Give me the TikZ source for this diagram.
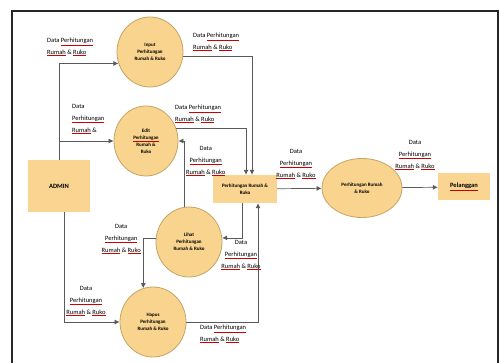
\documentclass[tikz,border=0pt]{standalone}
\usepackage{fontspec}
\setmainfont{Carlito}
\usetikzlibrary{arrows.meta,positioning,shapes.geometric}
\definecolor{procfill}{HTML}{F9D48E}
\definecolor{procline}{HTML}{C4A466}
\definecolor{boxfill}{HTML}{FAD491}
\definecolor{flowline}{HTML}{5A5A5A}
\newcommand{\ejaan}[1]{{\color{red!80!black}\underline{\color{black}#1}}}

\begin{document}
\begin{tikzpicture}[
    x=1pt, y=1pt,
    proc/.style={ellipse, draw=procline, fill=procfill, line width=0.8pt, align=center, minimum width=66pt, minimum height=70pt, inner sep=0pt, font=\fontsize{5}{7}\selectfont\bfseries},
    entity/.style={rectangle, fill=boxfill, align=center, font=\fontsize{6.5}{8}\selectfont\bfseries},
    lbl/.style={align=left, inner sep=0pt, font=\fontsize{6.5}{12}\selectfont},
    arrow/.style={-{Latex[length=5pt,width=5pt]}, draw=flowline, line width=0.7pt}
]
\useasboundingbox (0,0) rectangle (500,363);
\draw[line width=1.3pt, black!85] (12,0) |- (498,352) -- (498,0);

% entitas dan proses
\node[entity, minimum width=62pt, minimum height=52pt] (admin) at (59,177) {ADMIN};
\node[proc] (p1) at (150,311) {Input\\Perhitungan\\Rumah \& Ruko};
\node[proc, minimum width=64pt] (p2) at (146,222) {Edit\\\ejaan{Perhitungan}\\Rumah \&\\Ruko};
\node[proc] (p3) at (189,121) {Lihat\\Perhitungan\\Rumah \& Ruko};
\node[proc] (p4) at (153,41) {Hapus\\Perhitungan\\Rumah \& Ruko};
\node[entity, minimum width=64pt, minimum height=28pt, font=\fontsize{5}{7}\selectfont\bfseries] (store) at (245,174) {Perhitungan Rumah \&\\Ruko};
\node[proc, minimum width=80pt, minimum height=59pt] (p5) at (362,175) {Perhitungan Rumah\\\& Ruko};
\node[entity, minimum width=52pt, minimum height=27pt] (pel) at (464,176) {\ejaan{Pelanggan}};

% aliran data
\coordinate (j2) at (admin.north |- p2.west);
\draw[arrow] (admin.north) |- (p1.200);
\draw[arrow] (j2) -- (p2.west);
\draw[arrow] ([xshift=5pt]admin.south) |- (p4.west);
\draw[arrow] (p1.-8) -| ([xshift=7pt]store.north);
\draw[arrow] (p2.22) -| ([xshift=1pt]store.north);
\draw[arrow] (p3.98) |- (p2.east);
\draw[arrow] ([xshift=-3pt]store.south) |- (p3.7);
\draw[arrow] (p4.east) -| ([xshift=13pt]store.south);
\draw[arrow] (p3.173) -| (p4.106);
\draw[arrow] (store) -- (p5);
\draw[arrow] (p5) -- (pel);

% label aliran
\node[lbl, anchor=west] (l1) at (47,316) {Data \ejaan{Perhitungan}\\\ejaan{Rumah} \& \ejaan{Ruko}};
\node[lbl, anchor=west] (l2) at (72,244) {Data\\\ejaan{Perhitungan}\\\ejaan{Rumah} \&};
\node[lbl, align=center] (l3) at (86,62) {Data\\\ejaan{Perhitungan}\\\ejaan{Rumah} \& \ejaan{Ruko}};
\node[lbl, anchor=west] (l4) at (193,321) {Data \ejaan{Perhitungan}\\\ejaan{Rumah} \& \ejaan{Ruko}};
\node[lbl, anchor=west] (l5) at (175,249) {Data \ejaan{Perhitungan}\\\ejaan{Rumah} \& \ejaan{Ruko}};
\node[lbl, align=center, anchor=west] (l6) at (186,202) {Data\\\ejaan{Perhitungan}\\\ejaan{Rumah} \& \ejaan{Ruko}};
\node[lbl, align=center] (l7) at (241,108) {Data\\\ejaan{Perhitungan}\\\ejaan{Rumah} \& \ejaan{Ruko}};
\node[lbl, anchor=west] (l8) at (200,29) {Data \ejaan{Perhitungan}\\\ejaan{Rumah} \& \ejaan{Ruko}};
\node[lbl, align=center, anchor=east] (l9) at (141,124) {Data\\\ejaan{Perhitungan}\\\ejaan{Rumah} \& \ejaan{Ruko}};
\node[lbl, align=center] (l10) at (296,199) {Data\\\ejaan{Perhitungan}\\\ejaan{Rumah} \& \ejaan{Ruko}};
\node[lbl, align=center] (l11) at (415,208) {Data\\\ejaan{Perhitungan}\\\ejaan{Rumah} \& \ejaan{Ruko}};
\end{tikzpicture}
\end{document}
